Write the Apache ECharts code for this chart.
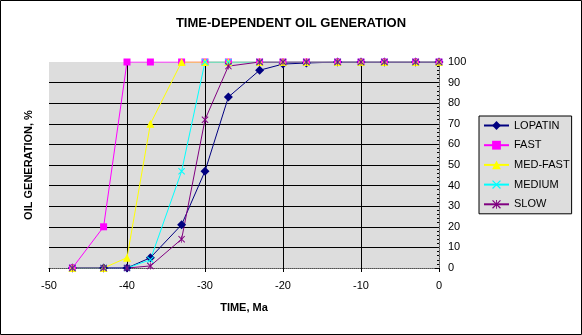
<!DOCTYPE html>
<html>
<head>
<meta charset="utf-8">
<script src="https://cdn.jsdelivr.net/npm/echarts@6/dist/echarts.min.js"></script>
<style>
  html, body { margin: 0; padding: 0; background: #fff; }
  #chart { width: 582px; height: 335px; }
</style>
</head>
<body>
<div id="chart"></div>
<script>
// Time in Ma (shared by every kinetic model)
const times = [-47, -43, -40, -37, -33, -30, -27, -23, -20, -17, -13, -10, -7, -3, 0];

// Cumulative oil generation, %
const lopatin = [0, 0, 0, 5, 21, 47, 83, 96, 99, 99.5, 100, 100, 100, 100, 100];
const fast    = [0, 20, 100, 100, 100, 100, 100, 100, 100, 100, 100, 100, 100, 100, 100];
const medFast = [0, 0, 5, 70, 100, 100, 100, 100, 100, 100, 100, 100, 100, 100, 100];
const medium  = [0, 0, 0, 4, 47, 100, 100, 100, 100, 100, 100, 100, 100, 100, 100];
const slow    = [0, 0, 0, 1, 14, 72, 98, 100, 100, 100, 100, 100, 100, 100, 100];

const seriesNames = ['LOPATIN', 'FAST', 'MED-FAST', 'MEDIUM', 'SLOW'];
const xTicks = { min: -50, max: 0, step: 10 };
const yTicks = { min: 0, max: 100, step: 10 };

const FONT = '"Liberation Sans", Arial, sans-serif';
const pair = vals => times.map((t, i) => [t, vals[i]]);

const crossPath = 'path://M0,1L1,0L5,4L9,0L10,1L6,5L10,9L9,10L5,6L1,10L0,9L4,5Z';
const starPath  = 'path://M0,1L1,0L5,4L9,0L10,1L6,5L10,9L9,10L5,6L1,10L0,9L4,5Z M4.5,0L5.5,0L5.5,10L4.5,10Z';

function lineSeries(name, vals, color, symbol, size) {
  return {
    name, type: 'line', data: pair(vals),
    xAxisIndex: 0, yAxisIndex: 0,
    symbol, symbolSize: size, showSymbol: true,
    lineStyle: { color, width: 1 },
    itemStyle: { color, borderWidth: 0 },
    emphasis: { disabled: true },
    animation: false
  };
}

const chart = echarts.init(document.getElementById('chart'), null, { renderer: 'canvas' });

chart.setOption({
  animation: false,
  backgroundColor: '#ffffff',
  title: {
    text: 'TIME-DEPENDENT OIL GENERATION',
    left: 'center', top: 12,
    textStyle: { fontFamily: FONT, fontSize: 13, fontWeight: 'bold', color: '#000' }
  },
  graphic: [{
    type: 'rect', z: 100, silent: true,
    shape: { x: 0.5, y: 0.5, width: 581, height: 334 },
    style: { fill: null, stroke: '#000', lineWidth: 1 }
  }],
  grid: {
    left: 49, right: 143, top: 62, bottom: 67,
    show: true, backgroundColor: '#dddddd', borderWidth: 0
  },
  legend: {
    orient: 'vertical', left: 479, top: 116,
    data: seriesNames,
    backgroundColor: '#dddddd', borderColor: '#000', borderWidth: 1, borderRadius: 0,
    padding: [4, 2, 4, 4],
    itemWidth: 25, itemHeight: 11, itemGap: 8.7,
    textStyle: { fontFamily: FONT, fontSize: 11, color: '#000' }
  },
  xAxis: [{
    type: 'value', position: 'bottom',
    min: xTicks.min, max: xTicks.max, interval: xTicks.step,
    name: 'TIME, Ma', nameLocation: 'middle', nameGap: 34,
    nameTextStyle: { fontFamily: FONT, fontSize: 11, fontWeight: 'bold', color: '#000' },
    axisLine: { show: true, lineStyle: { color: '#000', width: 1 } },
    axisTick: { show: true, inside: false, length: 4, lineStyle: { color: '#000' } },
    axisLabel: { fontFamily: FONT, fontSize: 11, color: '#000', margin: 12 },
    splitLine: { show: true, showMinLine: false, showMaxLine: false, lineStyle: { color: '#000', width: 1 } }
  }, {
    type: 'value', position: 'top',
    min: xTicks.min, max: xTicks.max, interval: xTicks.step,
    axisLine: { show: true, lineStyle: { color: '#808080', width: 1, type: [1, 1] } },
    axisTick: { show: false }, axisLabel: { show: false }, splitLine: { show: false }
  }],
  yAxis: [{
    type: 'value', position: 'right',
    min: yTicks.min, max: yTicks.max, interval: yTicks.step,
    axisLine: { show: true, lineStyle: { color: '#000', width: 1 } },
    axisTick: { show: true, inside: true, length: 4, lineStyle: { color: '#000' } },
    minorTick: { show: true, splitNumber: 5, length: 2, lineStyle: { color: '#000' } },
    axisLabel: { fontFamily: FONT, fontSize: 11, color: '#000', margin: 9, align: 'left' },
    splitLine: { show: true, showMinLine: false, showMaxLine: false, lineStyle: { color: '#000', width: 1 } }
  }, {
    type: 'value', position: 'left',
    min: yTicks.min, max: yTicks.max, interval: yTicks.step,
    name: 'OIL GENERATION, %', nameLocation: 'middle', nameGap: 15, nameRotate: 90,
    nameTextStyle: { fontFamily: FONT, fontSize: 11, fontWeight: 'bold', color: '#000' },
    axisLine: { show: true, lineStyle: { color: '#808080', width: 1, type: [1, 1] } },
    axisTick: { show: false }, axisLabel: { show: false }, splitLine: { show: false }
  }],
  series: [
    lineSeries('LOPATIN', lopatin, '#000080', 'diamond', 9),
    lineSeries('FAST', fast, '#ff00ff', 'rect', 7),
    lineSeries('MED-FAST', medFast, '#ffff00', 'triangle', 8),
    lineSeries('MEDIUM', medium, '#00ffff', crossPath, 7),
    lineSeries('SLOW', slow, '#800080', starPath, 7)
  ]
});
</script>
</body>
</html>
